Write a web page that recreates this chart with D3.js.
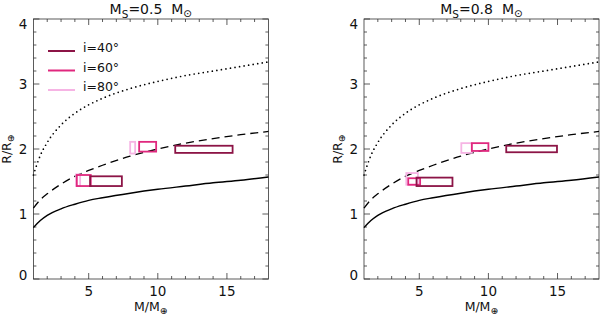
<!DOCTYPE html>
<html>
<head>
<meta charset="utf-8">
<script src="https://cdn.jsdelivr.net/npm/d3@7"></script>
<style>
  body { margin: 0; background: #fff; }
  svg text { font-family: "DejaVu Sans", sans-serif; fill: #111; }
</style>
</head>
<body>
<svg id="chart" width="600" height="317"></svg>
<script>
// mass-radius curves (same in both panels)
const curveMass = [1, 1.5, 2, 3, 4, 5, 6, 8, 10, 12, 14, 16, 18];
const solidR  = [0.79, 0.9, 0.98, 1.08, 1.15, 1.21, 1.25, 1.32, 1.38, 1.43, 1.48, 1.52, 1.57];
const dashedR = [1.09, 1.22, 1.31, 1.46, 1.58, 1.67, 1.75, 1.89, 2.0, 2.09, 2.16, 2.22, 2.27];
const dottedR = [1.6, 1.9, 2.1, 2.37, 2.55, 2.68, 2.78, 2.93, 3.04, 3.13, 3.2, 3.27, 3.34];

const incl = ["40", "60", "80"];
const inclColor = ["#8c1446", "#e0287e", "#f6b4e4"];

// boxes: [inclination index, mMin, mMax, rMin, rMax]
const boxesLeft = [
  [2, 8.0, 8.36, 1.93, 2.11], [2, 4.09, 4.38, 1.43, 1.61],
  [1, 8.65, 9.88, 1.96, 2.11], [1, 4.14, 5.15, 1.43, 1.6],
  [0, 11.26, 15.41, 1.94, 2.05], [0, 5.1, 7.4, 1.43, 1.58]
];
const boxesRight = [
  [2, 8.04, 8.8, 1.94, 2.09], [2, 4.06, 4.9, 1.45, 1.63],
  [1, 8.8, 10.0, 1.97, 2.09], [1, 4.2, 5.06, 1.45, 1.55],
  [0, 11.29, 14.96, 1.95, 2.05], [0, 4.8, 7.4, 1.43, 1.56]
];
const panelTitles = ["0.5", "0.8"];

const svg = d3.select("#chart");
const plotTop = 19, plotBottom = 279, pw = 235;
const panels = [
  {left: 33.4, title: panelTitles[0], boxes: boxesLeft, legend: true},
  {left: 364, title: panelTitles[1], boxes: boxesRight, legend: false}
];

const lineStyles = [
  {r: solidR, dash: null, w: 1.4, cap: "butt"},
  {r: dashedR, dash: "8,5", w: 1.3, cap: "butt"},
  {r: dottedR, dash: "0,4.6", w: 1.7, cap: "round"}
];

panels.forEach(function(p) {
  const x = d3.scaleLinear().domain([1, 18]).range([p.left, p.left + pw]);
  const y = d3.scaleLinear().domain([0, 4]).range([plotBottom, plotTop]);
  const g = svg.append("g");

  // frame with ticks on all four sides
  const majX = [5, 10, 15], minX = d3.range(2, 18);
  const majY = [0, 1, 2, 3, 4], minY = d3.range(0, 4.01, 0.2);
  const tk = g.append("g").attr("stroke", "#333").attr("stroke-width", 0.8);
  minX.forEach(function(v) {
    const len = majX.includes(v) ? 6 : 3;
    tk.append("line").attr("x1", x(v)).attr("x2", x(v)).attr("y1", plotBottom).attr("y2", plotBottom - len);
    tk.append("line").attr("x1", x(v)).attr("x2", x(v)).attr("y1", plotTop).attr("y2", plotTop + len);
  });
  minY.forEach(function(v) {
    const len = Math.abs(v - Math.round(v)) < 1e-6 ? 6 : 3;
    tk.append("line").attr("y1", y(v)).attr("y2", y(v)).attr("x1", x(1)).attr("x2", x(1) + len);
    tk.append("line").attr("y1", y(v)).attr("y2", y(v)).attr("x1", x(18)).attr("x2", x(18) - len);
  });
  g.append("rect").attr("x", x(1)).attr("y", plotTop).attr("width", pw).attr("height", plotBottom - plotTop)
    .attr("fill", "none").attr("stroke", "#333").attr("stroke-width", 0.8);

  // tick labels
  g.selectAll(".xl").data(majX).enter().append("text")
    .attr("x", function(d) { return x(d); }).attr("y", plotBottom + 17)
    .attr("text-anchor", "middle").attr("font-size", 13.5).text(function(d) { return d; });
  g.selectAll(".yl").data(majY).enter().append("text")
    .attr("x", x(1) - 6).attr("y", function(d) { return y(d) + (d === 0 ? 1 : d === 4 ? 10 : 5); })
    .attr("text-anchor", "end").attr("font-size", 13.5).text(function(d) { return d; });

  // curves
  const line = d3.line().x(function(d) { return x(d[0]); }).y(function(d) { return y(d[1]); })
    .curve(d3.curveMonotoneX);
  lineStyles.forEach(function(s) {
    g.append("path").datum(d3.zip(curveMass, s.r)).attr("d", line)
      .attr("fill", "none").attr("stroke", "#000").attr("stroke-width", s.w)
      .attr("stroke-linecap", s.cap).attr("stroke-dasharray", s.dash);
  });

  // boxes
  g.selectAll(".box").data(p.boxes).enter().append("rect")
    .attr("x", function(d) { return x(d[1]); })
    .attr("y", function(d) { return y(d[4]); })
    .attr("width", function(d) { return x(d[2]) - x(d[1]); })
    .attr("height", function(d) { return y(d[3]) - y(d[4]); })
    .attr("fill", "none").attr("stroke", function(d) { return inclColor[d[0]]; })
    .attr("stroke-width", 1.8);

  // title
  const t = g.append("text").attr("x", p.left + pw / 2).attr("y", 14)
    .attr("text-anchor", "middle").attr("font-size", 14);
  t.append("tspan").text("M");
  t.append("tspan").attr("font-size", 10.5).attr("dy", 4).text("S");
  t.append("tspan").attr("dy", -4).text("=" + p.title + "\u00a0\u00a0M");
  t.append("tspan").attr("font-size", 10.5).attr("dy", 3).text("\u2299");

  // axis titles
  const xt = g.append("text").attr("x", p.left + pw / 2).attr("y", 311)
    .attr("text-anchor", "middle").attr("font-size", 12.5);
  xt.append("tspan").text("M/M");
  xt.append("tspan").attr("font-size", 9.5).attr("dy", 3).text("\u2295");
  const yt = g.append("text")
    .attr("transform", "translate(" + (p.left - 22) + "," + ((plotTop + plotBottom) / 2) + ") rotate(-90)")
    .attr("text-anchor", "middle").attr("font-size", 12.5);
  yt.append("tspan").text("R/R");
  yt.append("tspan").attr("font-size", 9.5).attr("dy", 3).text("\u2295");

  if (p.legend) {
    incl.forEach(function(v, i) {
      const ly = 51 + i * 19.5;
      g.append("line").attr("x1", 48).attr("x2", 75).attr("y1", ly).attr("y2", ly)
        .attr("stroke", inclColor[i]).attr("stroke-width", 2);
      g.append("text").attr("x", 83).attr("y", ly + 1).attr("font-size", 12.5).text("i=" + v + "\u00b0");
    });
  }
});
</script>
</body>
</html>
